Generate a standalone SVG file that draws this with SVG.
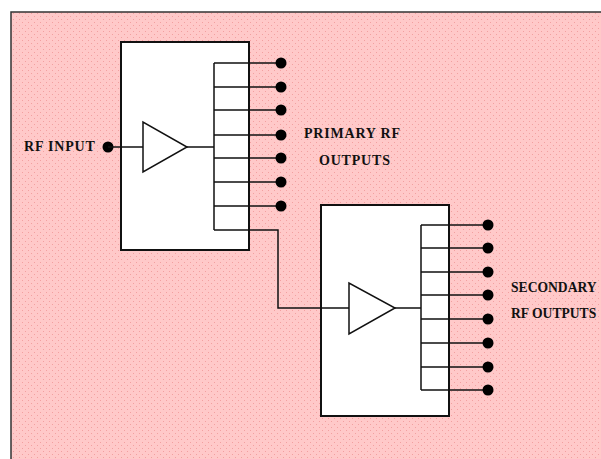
<svg xmlns="http://www.w3.org/2000/svg" width="601" height="459" viewBox="0 0 601 459">
<defs>
<pattern id="dots" width="6" height="6" patternUnits="userSpaceOnUse">
<rect width="6" height="6" fill="#FFC9C9"/>
<rect x="1" y="1" width="1" height="1" fill="#F2A0A0"/>
<rect x="4" y="4" width="1" height="1" fill="#F2A0A0"/>
</pattern>
<style>
.ln{stroke:#111;stroke-width:1.5;fill:none}
.box{fill:#fff;stroke:#111;stroke-width:2}
.amp{fill:#fff;stroke:#111;stroke-width:1.5}
.dot{fill:#000}
.t{font-family:"Liberation Serif",serif;font-weight:bold;font-size:14px;letter-spacing:0.8px;fill:#111}
.t2{letter-spacing:0;font-size:13.6px}
</style>
</defs>
<rect x="0" y="0" width="601" height="459" fill="#fff"/>
<rect x="11" y="12" width="600" height="460" fill="url(#dots)" stroke="#333" stroke-width="1.5"/>

<g id="splitter1">
<rect class="box" x="121" y="42" width="128" height="208"/>
<polygon class="amp" points="143,122 143,172 187,147"/>
<path class="ln" d="M214,63V230 M187,147H214"/>
<path class="ln" d="M214,63H281 M214,87H281 M214,110H281 M214,135H281 M214,158H281 M214,182H281 M214,206H281"/>
<g class="dot">
<circle cx="281" cy="63" r="5.5"/><circle cx="281" cy="87" r="5.5"/><circle cx="281" cy="110" r="5.5"/><circle cx="281" cy="135" r="5.5"/><circle cx="281" cy="158" r="5.5"/><circle cx="281" cy="182" r="5.5"/><circle cx="281" cy="206" r="5.5"/>
</g>
</g>

<g id="splitter2">
<rect class="box" x="321" y="205" width="128" height="211"/>
<polygon class="amp" points="349,283 349,334 395,308"/>
<path class="ln" d="M421,225V390 M395,308H421"/>
<path class="ln" d="M421,225H488 M421,248H488 M421,272H488 M421,295H488 M421,319H488 M421,343H488 M421,367H488 M421,390H488"/>
<g class="dot">
<circle cx="488" cy="225" r="5.5"/><circle cx="488" cy="248" r="5.5"/><circle cx="488" cy="272" r="5.5"/><circle cx="488" cy="295" r="5.5"/><circle cx="488" cy="319" r="5.5"/><circle cx="488" cy="343" r="5.5"/><circle cx="488" cy="367" r="5.5"/><circle cx="488" cy="390" r="5.5"/>
</g>
</g>

<g id="input">
<circle class="dot" cx="108" cy="147" r="5.5"/>
</g>

<g id="connectors">
<path class="ln" d="M108,147H143"/>
<path class="ln" d="M214,230H278V308H349"/>
</g>

<g id="labels">
<text class="t" x="24" y="151">RF INPUT</text>
<text class="t" x="304" y="138">PRIMARY RF</text>
<text class="t" x="319" y="165">OUTPUTS</text>
<text class="t t2" x="511" y="292">SECONDARY</text>
<text class="t t2" x="511" y="318">RF OUTPUTS</text>
</g>
</svg>
